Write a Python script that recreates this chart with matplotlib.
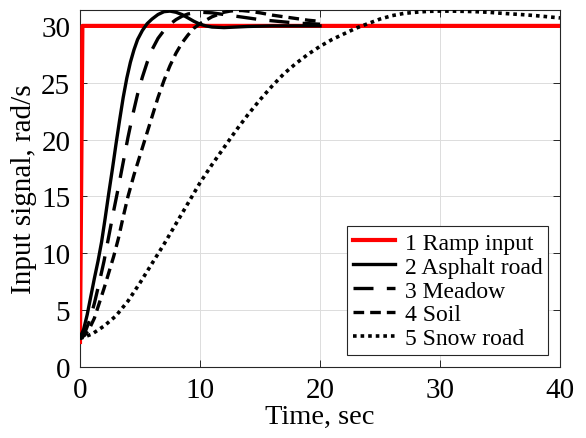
import numpy as np
import matplotlib
matplotlib.use("Agg")
from matplotlib import pyplot as plt

plt.rcParams['font.family'] = ['Liberation Serif', 'DejaVu Serif']
plt.rcParams['mathtext.fontset'] = 'stix'

# ---- datos (t en s, senal en rad/s)
t_ramp = [0.0, 0.2, 40.0]
y_ramp = [2.2, 30.0, 30.0]

t_asph = [0, 0.3, 0.6, 0.9, 1.2, 1.5, 1.8, 2.1, 2.4, 2.7, 3.0, 3.3, 3.6, 3.9, 4.2,
          4.5, 4.8, 5.2, 5.6, 6.0, 6.5, 7.0, 7.5, 8.0, 8.5, 9.0, 9.5, 10.0, 10.5,
          11.0, 12.0, 13.0, 14.0, 16.0, 20.0]
y_asph = [2.6, 3.3, 4.6, 6.2, 7.8, 9.3, 11.0, 13.1, 15.3, 17.4, 19.6, 21.7, 23.7,
          25.4, 26.8, 27.9, 28.8, 29.6, 30.2, 30.6, 31.0, 31.25, 31.3, 31.2, 31.0,
          30.7, 30.4, 30.15, 30.0, 29.9, 29.85, 29.9, 29.95, 30.0, 30.0]

t_mead = [0, 0.4, 0.8, 1.2, 1.6, 2.0, 2.4, 2.8, 3.2, 3.6, 4.0, 4.4, 4.8, 5.2, 5.6,
          6.0, 6.5, 7.0, 7.5, 8.0, 8.5, 9.0, 9.5, 10, 11, 12, 13, 14, 15, 16, 17,
          18, 19, 20]
y_mead = [2.5, 3.0, 4.1, 5.6, 7.4, 9.3, 11.5, 13.7, 15.8, 18.0, 20.2, 22.2, 24.0,
          25.5, 26.8, 27.9, 28.9, 29.6, 30.15, 30.55, 30.85, 31.05, 31.15, 31.2,
          31.15, 31.0, 30.85, 30.7, 30.55, 30.45, 30.35, 30.25, 30.2, 30.15]

t_soil = [0, 0.4, 0.8, 1.2, 1.6, 2.0, 2.4, 2.8, 3.2, 3.6, 4.0, 4.5, 5.0, 5.5, 6.0,
          6.5, 7.0, 7.5, 8.0, 8.5, 9.0, 9.5, 10.0, 10.5, 11, 11.5, 12, 12.5, 13,
          13.5, 14, 15, 16, 17, 18, 19, 20]
y_soil = [2.5, 2.8, 3.4, 4.3, 5.6, 6.9, 8.3, 9.7, 11.3, 13.2, 15.0, 16.9, 18.6,
          20.3, 22.0, 23.7, 25.2, 26.5, 27.6, 28.5, 29.2, 29.8, 30.2, 30.5, 30.8,
          31.0, 31.2, 31.3, 31.35, 31.35, 31.3, 31.15, 30.95, 30.8, 30.65, 30.5,
          30.4]

t_snow = list(range(0, 41))
y_snow = [2.5, 2.9, 3.6, 4.5, 5.8, 7.4, 9.1, 10.8, 12.6, 14.4, 16.2, 17.8, 19.3,
          20.8, 22.2, 23.5, 24.7, 25.8, 26.7, 27.5, 28.2, 28.8, 29.3, 29.8, 30.2,
          30.6, 30.9, 31.1, 31.2, 31.28, 31.3, 31.3, 31.28, 31.25, 31.2, 31.12,
          31.05, 30.98, 30.9, 30.8, 30.7]

etiquetas = ['1 Ramp input', '2 Asphalt road', '3 Meadow', '4 Soil', '5 Snow road']

fig = plt.figure(figsize=(5.86, 4.39), dpi=100)
ax = fig.add_axes([0.1365, 0.1617, 0.8191, 0.8133])

ax.plot(t_ramp, y_ramp, color='red', lw=3.0, label=etiquetas[0], zorder=3)
ax.plot(t_asph, y_asph, color='black', lw=2.4, label=etiquetas[1], zorder=4)
ax.plot(t_mead, y_mead, color='black', lw=2.4, ls=(0, (6, 4)), label=etiquetas[2], zorder=4)
ax.plot(t_soil, y_soil, color='black', lw=2.4, ls=(0, (3.2, 1.8)), label=etiquetas[3], zorder=4)
ax.plot(t_snow, y_snow, color='black', lw=2.6, ls=(0, (1, 1.1)), label=etiquetas[4], zorder=4)

ax.set_xlim(0, 40)
ax.set_ylim(0, 31.4)
ax.set_xticks([0, 10, 20, 30, 40])
ax.set_yticks([0, 5, 10, 15, 20, 25, 30])
ax.grid(True, color='#dcdcdc', lw=0.7)
ax.set_axisbelow(True)
for s in ax.spines.values():
    s.set_color('#262626')
    s.set_linewidth(0.8)
ax.tick_params(direction='in', length=5, width=0.7, top=True, right=True,
               labelsize=21, color='#262626', pad=7)

ax.set_xlabel('Time, sec', fontsize=20.5, labelpad=1)
ax.set_ylabel('Input signal, rad/s', fontsize=21, labelpad=3)

leg = ax.legend(loc='lower right', fontsize=17, frameon=True, fancybox=False,
                edgecolor='#262626', framealpha=1, handlelength=1.8,
                handletextpad=0.4, borderpad=0.25, labelspacing=0.1,
                borderaxespad=0.5)
leg.get_frame().set_linewidth(0.8)

fig.savefig('out.png', dpi=100)
